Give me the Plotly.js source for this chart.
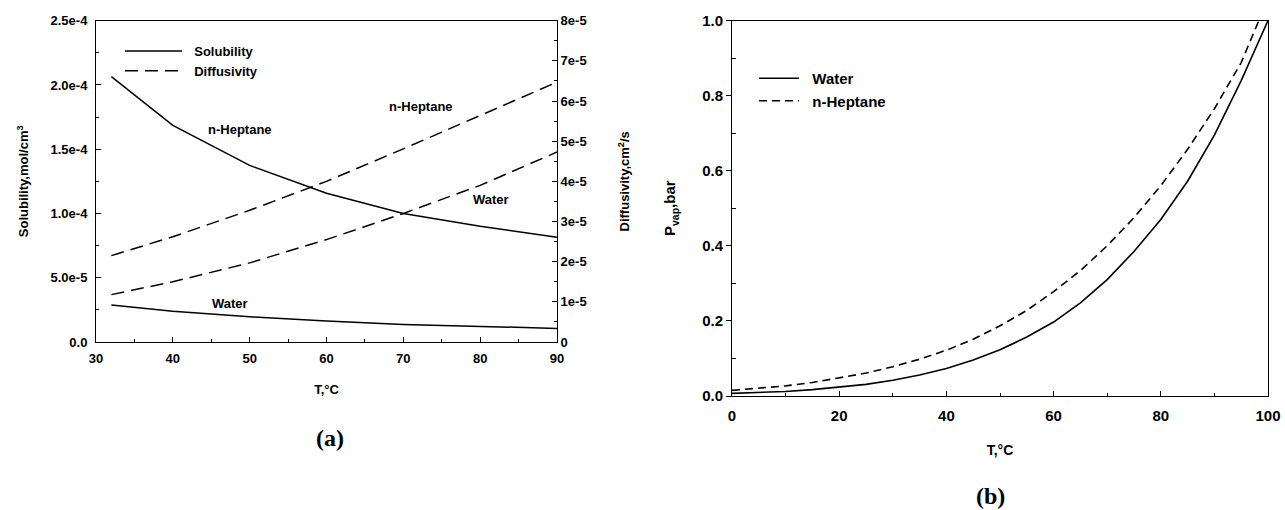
<!DOCTYPE html>
<html><head><meta charset="utf-8">
<script src="https://cdn.plot.ly/plotly-3.0.1.min.js"></script>
<style>html,body{margin:0;padding:0;background:#fff}#chart{width:1285px;height:510px}</style>
</head><body><div id="chart"></div>
<script>
// ---- Panel (a) data ----
const tempA = [32, 40, 50, 60, 70, 80, 90];
const solHeptane = [2.065e-4, 1.685e-4, 1.374e-4, 1.157e-4, 1.0e-4, 0.90e-4, 0.815e-4];
const solWater = [0.287e-4, 0.24e-4, 0.196e-4, 0.163e-4, 0.137e-4, 0.124e-4, 0.106e-4];
const diffHeptane = [2.15e-5, 2.62e-5, 3.28e-5, 4.0e-5, 4.81e-5, 5.64e-5, 6.47e-5];
const diffWater = [1.18e-5, 1.50e-5, 1.97e-5, 2.55e-5, 3.2e-5, 3.90e-5, 4.73e-5];

// ---- Panel (b) data ----
const tempWater = [0, 5, 10, 15, 20, 25, 30, 35, 40, 45, 50, 55, 60, 65, 70, 75, 80, 85, 90, 95, 100];
const pvapWater = [0.007, 0.009, 0.012, 0.017, 0.023, 0.031, 0.042, 0.056, 0.073, 0.096, 0.123, 0.157, 0.197, 0.248, 0.31, 0.385, 0.47, 0.572, 0.695, 0.84, 1.0];
const tempHeptane = [0, 5, 10, 15, 20, 25, 30, 35, 40, 45, 50, 55, 60, 65, 70, 75, 80, 85, 90, 95, 98.3];
const pvapHeptane = [0.015, 0.02, 0.027, 0.036, 0.048, 0.061, 0.078, 0.098, 0.122, 0.151, 0.187, 0.228, 0.278, 0.334, 0.40, 0.475, 0.56, 0.657, 0.765, 0.888, 1.0];

// ---- tick labels ----
const xTicksA = [30, 40, 50, 60, 70, 80, 90];
const xMinorA = [35, 45, 55, 65, 75, 85];
const ySolTickVals = [0, 0.5e-4, 1.0e-4, 1.5e-4, 2.0e-4, 2.5e-4];
const ySolTickText = ['0.0', '5.0e-5', '1.0e-4', '1.5e-4', '2.0e-4', '2.5e-4'];
const ySolMinor = [0.25e-4, 0.75e-4, 1.25e-4, 1.75e-4, 2.25e-4];
const yDiffTickVals = [0, 1e-5, 2e-5, 3e-5, 4e-5, 5e-5, 6e-5, 7e-5, 8e-5];
const yDiffTickText = ['0', '1e-5', '2e-5', '3e-5', '4e-5', '5e-5', '6e-5', '7e-5', '8e-5'];
const yDiffMinor = [0.5e-5, 1.5e-5, 2.5e-5, 3.5e-5, 4.5e-5, 5.5e-5, 6.5e-5, 7.5e-5];
const xTicksB = [0, 20, 40, 60, 80, 100];
const xMinorB = [10, 30, 50, 70, 90];
const yTicksB = [0, 0.2, 0.4, 0.6, 0.8, 1.0];
const yTickTextB = ['0.0', '0.2', '0.4', '0.6', '0.8', '1.0'];
const yMinorB = [0.1, 0.3, 0.5, 0.7, 0.9];

const BLK = '#000';
const F = 'Liberation Sans, Arial, sans-serif';
const bold = (s) => ({family: F, size: s, color: BLK, weight: 'bold'});
const NB = '\u00a0\u00a0';

const traces = [
  {x: tempA, y: solHeptane, xaxis: 'x', yaxis: 'y', mode: 'lines', name: NB + 'Solubility',
   line: {color: BLK, width: 1.5}, showlegend: true, legend: 'legend'},
  {x: tempA, y: solWater, xaxis: 'x', yaxis: 'y', mode: 'lines', name: 'Solubility water',
   line: {color: BLK, width: 1.5}, showlegend: false},
  {x: tempA, y: diffHeptane, xaxis: 'x', yaxis: 'y2', mode: 'lines', name: NB + 'Diffusivity',
   line: {color: BLK, width: 1.5, dash: '13px,7px'}, showlegend: true, legend: 'legend'},
  {x: tempA, y: diffWater, xaxis: 'x', yaxis: 'y2', mode: 'lines', name: 'Diffusivity water',
   line: {color: BLK, width: 1.5, dash: '13px,7px'}, showlegend: false},
  {x: tempWater, y: pvapWater, xaxis: 'x2', yaxis: 'y3', mode: 'lines', name: NB + 'Water',
   line: {color: BLK, width: 1.6}, showlegend: true, legend: 'legend2'},
  {x: tempHeptane, y: pvapHeptane, xaxis: 'x2', yaxis: 'y3', mode: 'lines', name: NB + 'n-Heptane',
   line: {color: BLK, width: 1.6, dash: '8px,5px'}, showlegend: true, legend: 'legend2'}
];

const axCommon = {showline: true, linecolor: BLK, linewidth: 1, showgrid: false, zeroline: false,
  tickcolor: BLK, tickwidth: 1, fixedrange: true};

const layout = {
  width: 1285, height: 510,
  margin: {l: 0, r: 0, t: 0, b: 0},
  paper_bgcolor: '#fff', plot_bgcolor: '#fff',
  font: bold(13),
  xaxis: Object.assign({}, axCommon, {
    domain: [96/1285, 557/1285], anchor: 'y', range: [30, 90],
    tickmode: 'array', tickvals: xTicksA, ticks: 'inside', ticklen: 5, mirror: true,
    minor: {tickmode: 'array', tickvals: xMinorA, ticks: 'inside', ticklen: 3, tickcolor: BLK},
    tickfont: bold(13), ticklabelstandoff: 4,
    title: {text: 'T,°C', font: bold(13), standoff: 20}
  }),
  yaxis: Object.assign({}, axCommon, {
    domain: [1 - 342/510, 1 - 20.7/510], anchor: 'x', range: [0, 2.5e-4],
    tickmode: 'array', tickvals: ySolTickVals, ticktext: ySolTickText, ticks: 'inside', ticklen: 5,
    minor: {tickmode: 'array', tickvals: ySolMinor, ticks: 'inside', ticklen: 3, tickcolor: BLK},
    tickfont: bold(13), ticklabelstandoff: 5,
    title: {text: 'Solubility,mol/cm<sup>3</sup>', font: bold(13), standoff: 18}
  }),
  yaxis2: Object.assign({}, axCommon, {
    overlaying: 'y', side: 'right', anchor: 'x', range: [0, 8e-5],
    tickmode: 'array', tickvals: yDiffTickVals, ticktext: yDiffTickText, ticks: 'inside', ticklen: 5,
    minor: {tickmode: 'array', tickvals: yDiffMinor, ticks: 'inside', ticklen: 3, tickcolor: BLK},
    tickfont: bold(13),
    title: {text: 'Diffusivity,cm<sup>2</sup>/s', font: bold(13), standoff: 34}
  }),
  xaxis2: Object.assign({}, axCommon, {
    domain: [732/1285, 1268/1285], anchor: 'y3', range: [0, 100],
    tickmode: 'array', tickvals: xTicksB, ticks: 'inside', ticklen: 5, mirror: true,
    minor: {tickmode: 'array', tickvals: xMinorB, ticks: 'inside', ticklen: 3, tickcolor: BLK},
    tickfont: bold(15), ticklabelstandoff: 6,
    title: {text: 'T,°C', font: bold(14), standoff: 22}
  }),
  yaxis3: Object.assign({}, axCommon, {
    domain: [1 - 396/510, 1 - 20.5/510], anchor: 'x2', range: [0, 1],
    tickmode: 'array', tickvals: yTicksB, ticktext: yTickTextB, ticks: 'outside', ticklen: 5, mirror: true,
    minor: {tickmode: 'array', tickvals: yMinorB, ticks: 'inside', ticklen: 4, tickcolor: BLK},
    tickfont: bold(15),
    title: {text: 'P<sub>vap</sub>,bar', font: bold(15), standoff: 22}
  }),
  legend: {x: 120/1285, y: 1 - 36/510, xanchor: 'left', yanchor: 'top', bgcolor: 'rgba(0,0,0,0)',
    font: bold(13), itemwidth: 57, tracegroupgap: 0},
  legend2: {x: 754/1285, y: 1 - 62/510, xanchor: 'left', yanchor: 'top', bgcolor: 'rgba(0,0,0,0)',
    font: bold(15), itemwidth: 40, tracegroupgap: 0},
  annotations: [
    {text: 'n-Heptane', x: 48.75, y: 1.65e-4, xref: 'x', yref: 'y', showarrow: false, font: bold(13)},
    {text: 'n-Heptane', x: 72.3, y: 1.83e-4, xref: 'x', yref: 'y', showarrow: false, font: bold(13)},
    {text: 'Water', x: 81.4, y: 1.105e-4, xref: 'x', yref: 'y', showarrow: false, font: bold(13)},
    {text: 'Water', x: 47.4, y: 0.303e-4, xref: 'x', yref: 'y', showarrow: false, font: bold(13)},
    {text: '(a)', x: 330/1285, y: 1 - 438/510, xref: 'paper', yref: 'paper', xanchor: 'center', yanchor: 'middle',
     showarrow: false,
     font: {family: 'Liberation Serif, Times New Roman, serif', size: 24, color: BLK, weight: 'bold'}},
    {text: '(b)', x: 990/1285, y: 1 - 496/510, xref: 'paper', yref: 'paper', xanchor: 'center', yanchor: 'middle',
     showarrow: false,
     font: {family: 'Liberation Serif, Times New Roman, serif', size: 24, color: BLK, weight: 'bold'}}
  ]
};

Plotly.newPlot('chart', traces, layout, {displayModeBar: false, staticPlot: true});
</script>
</body></html>
